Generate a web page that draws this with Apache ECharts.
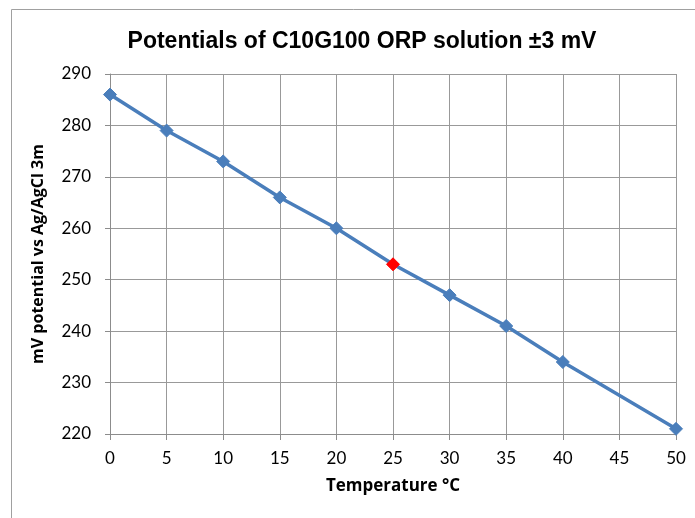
<!DOCTYPE html>
<html><head><meta charset="utf-8">
<script src="https://cdn.jsdelivr.net/npm/echarts@6/dist/echarts.min.js"></script>
<style>html,body{margin:0;padding:0;background:#fff}#c{width:695px;height:518px}</style>
</head><body><div id="c"></div>
<script>
const titleText = 'Potentials of C10G100 ORP solution \u00b13 mV';
const xAxisName = 'Temperature \u00b0C';
const yAxisName = 'mV potential vs Ag/AgCl 3m';
const temperatures = [0, 5, 10, 15, 20, 25, 30, 35, 40, 50];
const potentials = [286, 279, 273, 266, 260, 253, 247, 241, 234, 221];
const highlightTemp = 25;

const chart = echarts.init(document.getElementById('c'));
const data = temperatures.map((t, i) => {
  const d = { value: [t, potentials[i]] };
  if (t === highlightTemp) d.itemStyle = { color: '#ff0000', borderColor: '#ff0000' };
  return d;
});
chart.setOption({
  animation: false,
  backgroundColor: '#fff',
  graphic: [{
    type: 'rect', shape: { x: 11.5, y: 9.5, width: 700, height: 520 },
    style: { fill: 'none', stroke: '#a0a0a0', lineWidth: 1 }, silent: true
  }],
  title: {
    text: titleText, left: 357, top: 25, textAlign: 'center',
    textStyle: { fontFamily: 'Liberation Sans', fontWeight: 'bold', fontSize: 23, color: '#000' }
  },
  grid: { left: 110, right: 19, top: 74, bottom: 84, containLabel: false },
  xAxis: {
    type: 'value', min: 0, max: 50, interval: 5,
    name: xAxisName, nameLocation: 'middle', nameGap: 44,
    nameTextStyle: { fontFamily: 'Open Sans', fontWeight: 'bold', fontSize: 17, color: '#000' },
    axisLine: { lineStyle: { color: '#8c8c8c' } },
    axisTick: { show: true, length: 6, lineStyle: { color: '#8c8c8c' } },
    axisLabel: { fontFamily: 'Lato', fontSize: 17, color: '#000', margin: 16 },
    splitLine: { show: true, lineStyle: { color: '#999', width: 1 } }
  },
  yAxis: {
    type: 'value', min: 220, max: 290, interval: 10,
    name: yAxisName, nameLocation: 'middle', nameGap: 64, nameRotate: 90,
    nameTextStyle: { fontFamily: 'Open Sans', fontWeight: 'bold', fontSize: 16, color: '#000' },
    axisLine: { show: true, lineStyle: { color: '#8c8c8c' } },
    axisTick: { show: true, length: 5, lineStyle: { color: '#8c8c8c' } },
    axisLabel: { fontFamily: 'Lato', fontSize: 17, color: '#000', margin: 19 },
    splitLine: { show: true, lineStyle: { color: '#999', width: 1 } }
  },
  series: [{
    type: 'line', data: data,
    symbol: 'diamond', symbolSize: 13,
    lineStyle: { color: '#4a7ebb', width: 3.5 },
    itemStyle: { color: '#4a7ebb', borderColor: '#4a7ebb' }
  }]
});
</script></body></html>
